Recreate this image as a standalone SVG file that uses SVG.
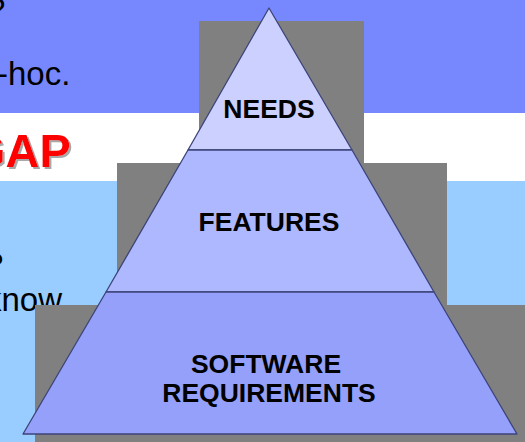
<svg xmlns="http://www.w3.org/2000/svg" width="525" height="442" viewBox="0 0 525 442">
<defs>
<filter id="tshadow" x="-10%" y="-20%" width="130%" height="150%">
<feDropShadow dx="2" dy="2" stdDeviation="0.6" flood-color="#A8A8A8" flood-opacity="1"/>
</filter>
</defs>
<style>
.bg{font-family:"Liberation Sans",Arial,sans-serif;font-size:33px;fill:#000}
.gap{font-family:"Liberation Sans",Arial,sans-serif;font-size:47px;font-weight:bold;fill:#FF0000;filter:url(#tshadow)}
.shadow{fill:#808080}
.lvl{stroke:#3C4478;stroke-width:1.3;stroke-linejoin:round}
.lbl{font-family:"Liberation Sans",Arial,sans-serif;font-size:26.5px;font-weight:bold;fill:#000;text-anchor:middle}
</style>
<g id="background">
<rect x="0" y="0" width="525" height="113" fill="#7788FF"/>
<rect x="0" y="113" width="525" height="68" fill="#FFFFFF"/>
<rect x="0" y="181" width="525" height="261" fill="#99CCFF"/>
<text class="bg" x="-13" y="21">?</text>
<text class="bg" x="-3" y="85">-hoc.</text>
<text class="gap" x="-31" y="167">GAP</text>
<text class="bg" x="-15" y="276">?</text>
<text class="bg" x="-15" y="311">know</text>
</g>
<g id="shadows" class="shadow">
<rect x="199" y="21" width="165" height="421"/>
<rect x="117" y="163" width="330" height="279"/>
<rect x="35" y="305" width="490" height="137"/>
</g>
<g id="connectors"/>
<g id="needs">
<polygon class="lvl" points="269,8 352,150 188,150" fill="#CCD0FF"/>
<text class="lbl" x="269" y="118">NEEDS</text>
</g>
<g id="features">
<polygon class="lvl" points="188,150 352,150 434,292 106,292" fill="#AEB8FF"/>
<text class="lbl" x="269" y="231">FEATURES</text>
</g>
<g id="software-requirements">
<polygon class="lvl" points="106,292 434,292 517,434 23,434" fill="#95A0FA"/>
<text class="lbl" x="266" y="373">SOFTWARE</text>
<text class="lbl" x="269" y="402">REQUIREMENTS</text>
</g>
</svg>
